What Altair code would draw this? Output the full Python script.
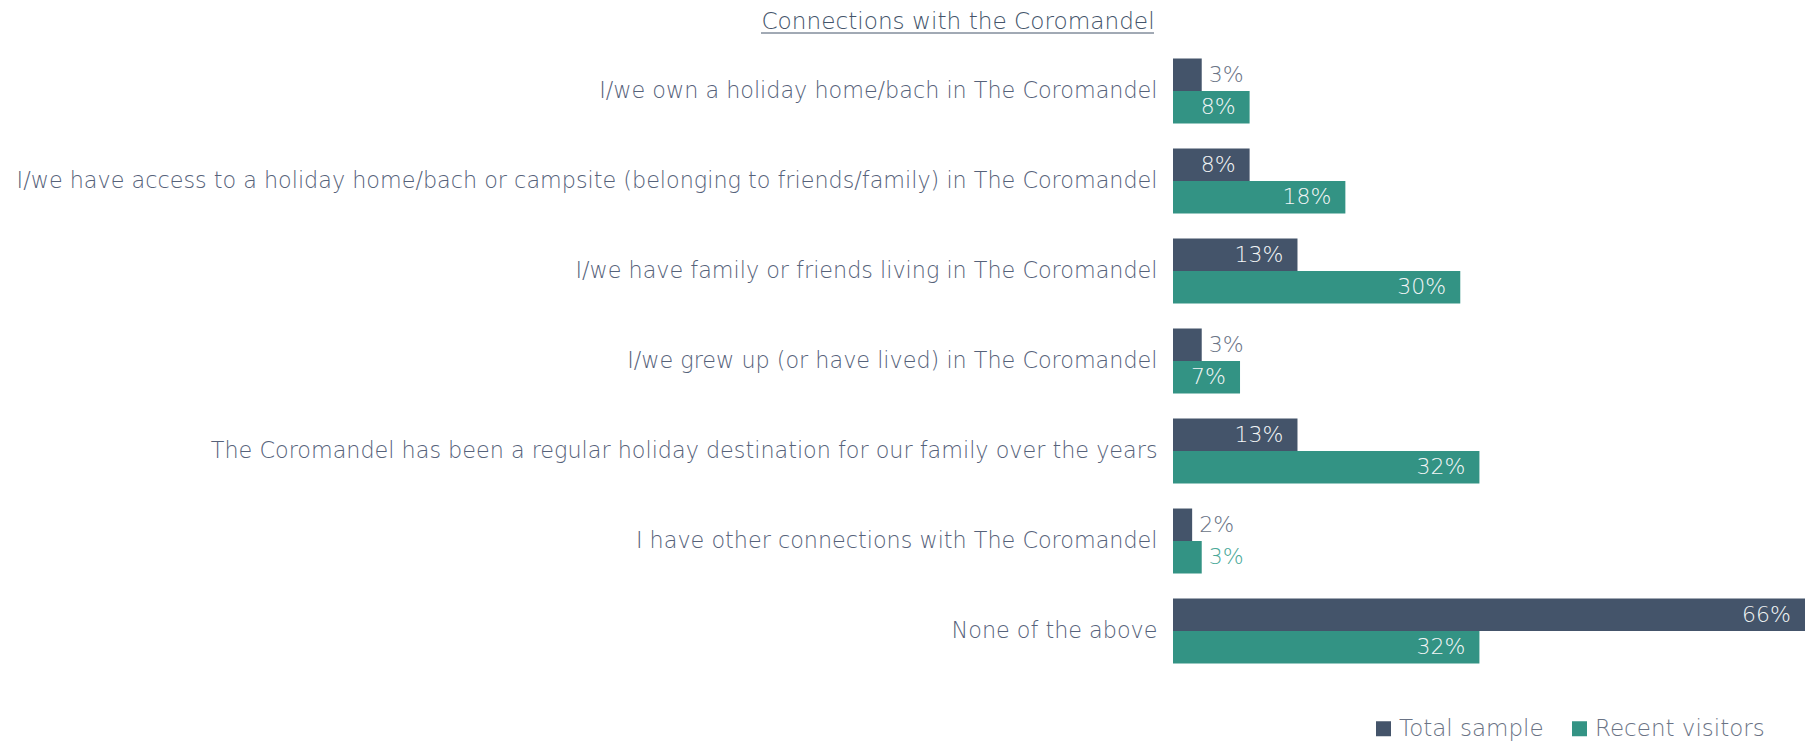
import altair as alt
import pandas as pd

TITLE = "Connections with the Coromandel"
categories = [
    "I/we own a holiday home/bach in The Coromandel",
    "I/we have access to a holiday home/bach or campsite (belonging to friends/family) in The Coromandel",
    "I/we have family or friends living in The Coromandel",
    "I/we grew up (or have lived) in The Coromandel",
    "The Coromandel has been a regular holiday destination for our family over the years",
    "I have other connections with The Coromandel",
    "None of the above",
]
series = ["Total sample", "Recent visitors"]
total_sample = [3, 8, 13, 3, 13, 2, 66]
recent_visitors = [8, 18, 30, 7, 32, 3, 32]

rows = []
for c, t, r in zip(categories, total_sample, recent_visitors):
    rows.append({"category": c, "series": series[0], "value": t})
    rows.append({"category": c, "series": series[1], "value": r})
df = pd.DataFrame(rows)

FONT = "DejaVu Sans"
W = 200
DARK = "#44546a"
TEAL = "#339384"
LABEL_C = "#56627a"

base = alt.Chart(df).transform_calculate(label="datum.value + '%'")

y = alt.Y(
    "category:N",
    sort=categories,
    scale=alt.Scale(paddingInner=0.278, paddingOuter=0.139),
    axis=alt.Axis(
        title=None, domain=False, ticks=False, labelFont=FONT, labelFontSize=22.3,
        labelFontWeight=W, labelColor=LABEL_C, labelPadding=16, labelLimit=1400,
    ),
)
yoff = alt.YOffset("series:N", sort=series)
x = alt.X("value:Q", scale=alt.Scale(domain=[0, 66], nice=False, zero=True), axis=None)

bars = base.mark_bar().encode(
    y=y,
    yOffset=yoff,
    x=x,
    color=alt.Color(
        "series:N",
        sort=series,
        scale=alt.Scale(domain=series, range=[DARK, TEAL]),
        legend=alt.Legend(
            title=None, orient="none", legendX=199, legendY=671, direction="horizontal",
            symbolType="square", symbolSize=225, symbolStrokeWidth=0,
            labelFont=FONT, labelFontSize=23, labelFontWeight=W, labelColor="#6a7385",
            labelLimit=400, columnPadding=24, labelOffset=4,
        ),
    ),
)

txt = dict(font=FONT, fontSize=22, fontWeight=W, baseline="middle")
inside = base.transform_filter("datum.value >= 5").mark_text(
    align="right", dx=-14, color="#f2f5f6", **txt
).encode(y=y, yOffset=yoff, x=x, text="label:N")
out_total = base.transform_filter(
    "datum.value < 5 && datum.series == 'Total sample'"
).mark_text(align="left", dx=7, color="#6a7385", **txt).encode(
    y=y, yOffset=yoff, x=x, text="label:N"
)
out_recent = base.transform_filter(
    "datum.value < 5 && datum.series == 'Recent visitors'"
).mark_text(align="left", dx=7, color="#4aa898", **txt).encode(
    y=y, yOffset=yoff, x=x, text="label:N"
)

tdf = pd.DataFrame({"t": [TITLE]})
title = alt.Chart(tdf).mark_text(
    font=FONT, fontSize=23.2, fontWeight=W, color=DARK, align="center", baseline="middle"
).encode(text="t:N", x=alt.value(-215), y=alt.value(-24))
underline = alt.Chart(tdf).mark_rule(color=DARK, strokeWidth=1).encode(
    x=alt.value(-412), x2=alt.value(-19), y=alt.value(-13)
)

chart = alt.layer(title, underline, bars, inside, out_total, out_recent).properties(
    width=632,
    height=630,
    autosize=alt.AutoSizeParams(type="none"),
    padding={"left": 1165, "top": 38, "right": 0, "bottom": 66},
    background="white",
).configure_view(stroke=None)

chart.save("out.html", embed_options={"renderer": "svg", "actions": False})
